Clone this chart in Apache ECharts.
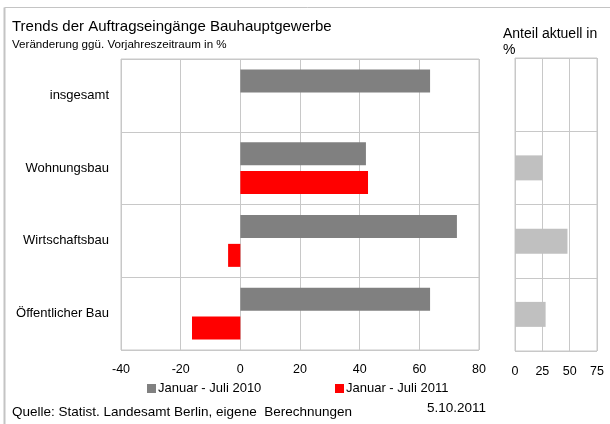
<!DOCTYPE html>
<html>
<head>
<meta charset="utf-8">
<script src="https://cdn.jsdelivr.net/npm/echarts@6/dist/echarts.min.js"></script>
<style>
  html, body { margin: 0; padding: 0; background: #fff; }
  #chart { width: 610px; height: 424px; }
</style>
</head>
<body>
<div id="chart"></div>
<script>
// Construction orders: change vs. previous-year period, and current share
const categories = ['insgesamt', 'Wohnungsbau', 'Wirtschaftsbau', 'Öffentlicher Bau'];
const change2010 = [63.6, 42.1, 72.6, 63.6];
const change2011 = [null, 42.8, -4.1, -16.2];
const shareNow = [null, 25, 48, 28];
const changeTicks = { min: -40, max: 80, interval: 20 };
const shareTicks = { min: 0, max: 75, interval: 25 };

const FONT = '"Liberation Sans", Arial, sans-serif';
const GRID_LINE = '#c8c8c8';

function txt(size, extra) {
  return Object.assign({ fontSize: size, fontWeight: 'normal', color: '#000', fontFamily: FONT }, extra || {});
}

const chart = echarts.init(document.getElementById('chart'), null, { renderer: 'canvas' });

chart.setOption({
  animation: false,
  backgroundColor: '#ffffff',
  textStyle: { fontFamily: FONT, color: '#000' },
  title: [
    { text: 'Trends der Auftragseingänge Bauhauptgewerbe', left: 7, top: 14, textStyle: txt(15) },
    { text: 'Veränderung ggü. Vorjahreszeitraum in %', left: 7, top: 34, textStyle: txt(11.6) },
    { text: 'Anteil aktuell in\n%', left: 498, top: 21, textStyle: txt(14, { lineHeight: 16 }) },
    { text: 'Quelle: Statist. Landesamt Berlin, eigene  Berechnungen', left: 7, top: 400, textStyle: txt(13.5) },
    { text: '5.10.2011', left: 422, top: 396, textStyle: txt(13.5) }
  ],
  legend: [
    { data: ['Januar - Juli 2010'], left: 142, top: 377, itemWidth: 9, itemHeight: 9,
      icon: 'rect', textStyle: txt(13, { padding: [0, 0, 0, -3] }) },
    { data: ['Januar - Juli 2011'], left: 330, top: 377, itemWidth: 9, itemHeight: 9,
      icon: 'rect', textStyle: txt(13, { padding: [0, 0, 0, -3] }) }
  ],
  grid: [
    { left: 121, right: 131, top: 59, bottom: 74, show: true, borderColor: GRID_LINE, borderWidth: 1 },
    { left: 515, right: 13, top: 58, bottom: 73, show: true, borderColor: GRID_LINE, borderWidth: 1 }
  ],
  xAxis: [
    { type: 'value', gridIndex: 0, min: changeTicks.min, max: changeTicks.max, interval: changeTicks.interval,
      axisLine: { show: false }, axisTick: { show: false },
      splitLine: { show: true, lineStyle: { color: GRID_LINE, width: 1 } },
      axisLabel: { fontSize: 12.5, color: '#000', margin: 13, fontFamily: FONT } },
    { type: 'value', gridIndex: 1, min: shareTicks.min, max: shareTicks.max, interval: shareTicks.interval,
      axisLine: { show: false }, axisTick: { show: false },
      splitLine: { show: true, lineStyle: { color: GRID_LINE, width: 1 } },
      axisLabel: { fontSize: 12.5, color: '#000', margin: 14, fontFamily: FONT } }
  ],
  yAxis: [
    { type: 'category', gridIndex: 0, data: categories, inverse: true,
      axisLine: { show: false }, axisTick: { show: false },
      splitLine: { show: true, lineStyle: { color: GRID_LINE, width: 1 } },
      axisLabel: { fontSize: 13, color: '#000', margin: 12, fontFamily: FONT } },
    { type: 'category', gridIndex: 1, data: categories, inverse: true,
      axisLine: { show: false }, axisTick: { show: false },
      splitLine: { show: true, lineStyle: { color: GRID_LINE, width: 1 } },
      axisLabel: { show: false } }
  ],
  series: [
    { name: 'Januar - Juli 2010', type: 'bar', xAxisIndex: 0, yAxisIndex: 0,
      data: change2010, barWidth: 23, barGap: '26%', itemStyle: { color: '#808080' } },
    { name: 'Januar - Juli 2011', type: 'bar', xAxisIndex: 0, yAxisIndex: 0,
      data: change2011, barWidth: 23, barGap: '26%', itemStyle: { color: '#ff0000' } },
    { name: 'Anteil aktuell', type: 'bar', xAxisIndex: 1, yAxisIndex: 1,
      data: shareNow, barWidth: 25, itemStyle: { color: '#c0c0c0' } }
  ],
  graphic: [
    { type: 'line', shape: { x1: 4.5, y1: 7.5, x2: 610, y2: 7.5 }, style: { stroke: '#c4c4c4', lineWidth: 1 } },
    { type: 'line', shape: { x1: 4.5, y1: 7.5, x2: 4.5, y2: 424 }, style: { stroke: '#c4c4c4', lineWidth: 2 } }
  ]
});
</script>
</body>
</html>
